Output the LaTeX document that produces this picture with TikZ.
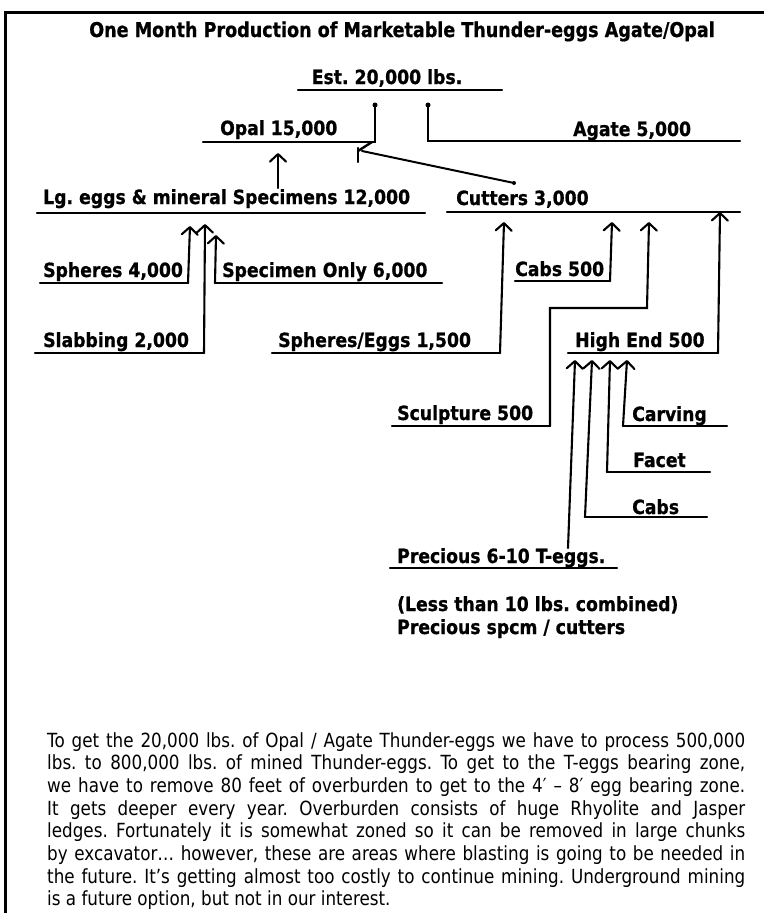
\documentclass[tikz,border=0pt]{standalone}
\usepackage{fontspec}
\setmainfont{DejaVu Sans}
\newfontfamily\parafont[FakeStretch=0.86]{DejaVu Sans}
\newfontfamily\lblfont[FakeStretch=0.88,FakeBold=0.8]{DejaVu Sans Bold}
\newfontfamily\ttlfont[FakeStretch=0.86,FakeBold=0.8]{DejaVu Sans Bold}
\usetikzlibrary{arrows.meta}
\begin{document}
\frenchspacing
\begin{tikzpicture}[x=1pt,y=-1pt,
  lbl/.style={anchor=base west, inner sep=0pt, font=\lblfont\fontsize{19.6}{22}\selectfont\frenchspacing},
  uline/.style={line width=2.4pt, line cap=round, line join=miter},
  arr/.style={line width=2.1pt, line cap=round, -{Straight Barb[length=7.5pt,width=16pt,line cap=round,line join=round]}},
  dotm/.style={circle, fill=black, inner sep=0pt, minimum size=5pt},
  ptext/.style={anchor=base west, inner sep=0pt, font=\parafont\fontsize{19.5}{22.7}\selectfont\frenchspacing}]
\useasboundingbox (0,0) rectangle (764,913);
\fill[white] (0,0) rectangle (764,913);
% frame
\coordinate (fb) at (5.5,913);
\coordinate (fc) at (5.5,12.5);
\coordinate (fr) at (764,12.5);
\draw[line width=3.2pt] (fb) -- (fc) -- (fr);

% title and labels
\node[anchor=base, inner sep=0pt, font=\ttlfont\fontsize{20.4}{23}\selectfont] (title) at (402,37) {One Month Production of Marketable Thunder-eggs Agate/Opal};
\node[lbl, anchor=base] (est) at (387,84) {Est. 20,000 lbs.};
\node[lbl] (opal) at (220,135) {Opal 15,000};
\node[lbl] (agate) at (573,136) {Agate 5,000};
\node[lbl] (lg) at (43,204) {Lg. eggs \& mineral Specimens 12,000};
\node[lbl] (cutters) at (456,205) {Cutters 3,000};
\node[lbl] (spheres) at (43,277) {Spheres 4,000};
\node[lbl] (specimen) at (222,277) {Specimen Only 6,000};
\node[lbl] (cabsfive) at (515,276) {Cabs 500};
\node[lbl] (slabbing) at (43,347) {Slabbing 2,000};
\node[lbl] (sphereseggs) at (278,347) {Spheres/Eggs 1,500};
\node[lbl] (highend) at (575,347) {High End 500};
\node[lbl] (sculpture) at (397,420) {Sculpture 500};
\node[lbl] (carving) at (632,421) {Carving};
\node[lbl] (facet) at (633,467) {Facet};
\node[lbl] (cabs) at (632,514) {Cabs};
\node[lbl] (precious) at (397,563) {Precious 6-10 T-eggs.};
\node[lbl] (less) at (397,611) {(Less than 10 lbs. combined)};
\node[lbl] (spcm) at (397,634) {Precious spcm / cutters};

% coordinates
\coordinate (estL) at (298,90);   \coordinate (estR) at (502,90);
\coordinate (vO) at (375,105);    \coordinate (vA) at (428,105);
\coordinate (opL) at (203,142);   \coordinate (opR) at (375,142);
\coordinate (agL) at (428,141);   \coordinate (agR) at (740,141);
\coordinate (hkA) at (372,142);   \coordinate (hkB) at (358,151);
\coordinate (hkT) at (358,148);   \coordinate (hkD) at (358,162);
\coordinate (hkC) at (362,151);   \coordinate (cuE) at (514,183);
\coordinate (lgU) at (278,188);   \coordinate (opT) at (278,153);
\coordinate (lgL) at (37,213);    \coordinate (lgR) at (425,213);
\coordinate (cuL) at (447,212);   \coordinate (cuR) at (740,212);
\coordinate (spL) at (40,283);    \coordinate (spR) at (188,283);
\coordinate (snL) at (215,283);   \coordinate (snR) at (442,283);
\coordinate (slL) at (35,353);    \coordinate (slR) at (204,353);
\coordinate (seL) at (272,353);   \coordinate (seR) at (500,353);
\coordinate (cbL) at (515,281);   \coordinate (cbR) at (610,281);
\coordinate (scL) at (392,426);   \coordinate (scR) at (550,426);
\coordinate (scM) at (550,308);   \coordinate (scN) at (647,308);
\coordinate (heL) at (568,353);   \coordinate (heR) at (718,353);
\coordinate (cvL) at (623,426);   \coordinate (cvR) at (727,426);
\coordinate (fcL) at (607,472);   \coordinate (fcR) at (710,472);
\coordinate (csL) at (585,517);   \coordinate (csR) at (707,517);
\coordinate (prL) at (390,568);   \coordinate (prR) at (617,568);
\coordinate (prA) at (568,548);
% arrow tips
\coordinate (tSp) at (190,226);   \coordinate (tSl) at (205,224);
\coordinate (tSn) at (216,235);   \coordinate (tSe) at (504,222);
\coordinate (tCb) at (612,222);   \coordinate (tSc) at (649,222);
\coordinate (tHe) at (720,212);
\coordinate (tPr) at (575,360);   \coordinate (tCs) at (592,360);
\coordinate (tFc) at (610,360);   \coordinate (tCv) at (627,360);

% underlines and joins
\draw[uline] (estL) -- (estR);
\draw[uline] (vO) -- (opR) -- (opL);
\draw[uline] (vA) -- (agL) -- (agR);
\node[dotm] (dO) at (vO) {};
\node[dotm] (dA) at (vA) {};
\draw[uline] (hkA) -- (hkB);
\draw[uline] (hkT) -- (hkD);
\draw[line width=2pt, line cap=round] (hkC) -- (cuE);
\node[dotm, minimum size=4pt] (dC) at (cuE) {};
\draw[uline] (lgL) -- (lgR);
\draw[uline] (cuL) -- (cuR);
\draw[uline] (spL) -- (spR);
\draw[uline] (snL) -- (snR);
\draw[uline] (slL) -- (slR);
\draw[uline] (seL) -- (seR);
\draw[uline] (cbL) -- (cbR);
\draw[uline] (scL) -- (scR);
\draw[uline] (heL) -- (heR);
\draw[uline] (cvL) -- (cvR);
\draw[uline] (fcL) -- (fcR);
\draw[uline] (csL) -- (csR);
\draw[uline] (prL) -- (prR);

% arrows
\draw[arr] (lgU) -- (opT);
\draw[arr] (spR) -- (tSp);
\draw[arr] (slR) -- (tSl);
\draw[arr] (snL) -- (tSn);
\draw[arr] (seR) -- (tSe);
\draw[arr] (cbR) -- (tCb);
\draw[arr] (scR) -- (scM) -- (scN) -- (tSc);
\draw[arr] (heR) -- (tHe);
\draw[arr] (prA) -- (tPr);
\draw[arr] (csL) -- (tCs);
\draw[arr] (fcL) -- (tFc);
\draw[arr] (cvL) -- (tCv);

% paragraph
\node[ptext] (p1) at (47,747) {\makebox[698pt][s]{To get the 20,000 lbs. of Opal / Agate Thunder-eggs we have to process 500,000}};
\node[ptext] (p2) at (47,769.7) {\makebox[698pt][s]{lbs. to 800,000 lbs. of mined Thunder-eggs. To get to the T-eggs bearing zone,}};
\node[ptext] (p3) at (47,792.4) {\makebox[698pt][s]{we have to remove 80 feet of overburden to get to the 4′ – 8′ egg bearing zone.}};
\node[ptext] (p4) at (47,815.1) {\makebox[698pt][s]{It gets deeper every year. Overburden consists of huge Rhyolite and Jasper}};
\node[ptext] (p5) at (47,837.8) {\makebox[698pt][s]{ledges. Fortunately it is somewhat zoned so it can be removed in large chunks}};
\node[ptext] (p6) at (47,860.5) {\makebox[698pt][s]{by excavator… however, these are areas where blasting is going to be needed in}};
\node[ptext] (p7) at (47,883.2) {\makebox[698pt][s]{the future. It’s getting almost too costly to continue mining. Underground mining}};
\node[ptext] (p8) at (47,905.9) {is a future option, but not in our interest.};
\end{tikzpicture}
\end{document}
